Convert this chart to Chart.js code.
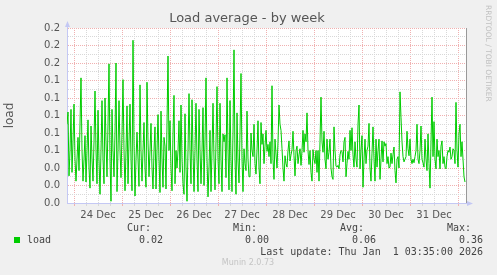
<!DOCTYPE html>
<html>
<head>
<meta charset="utf-8">
<script src="https://cdn.jsdelivr.net/npm/chart.js@4/dist/chart.umd.min.js"></script>
<style>
  html, body { margin: 0; padding: 0; background: #f0f0f0; }
  canvas { display: block; }
</style>
</head>
<body>
<canvas id="loadChart" width="497" height="275"></canvas>
<script>
// load average, one sample per 30 minutes.
// hours are counted from 24 Dec 00:00, first sample is 23 Dec 20:30
const startHour = -3.5;
const stepHours = 0.5;

// 23 Dec 20:30 - 24 Dec 24:30
const seg1 = [0.090,0.104,0.031,0.060,0.107,0.035,0.070,0.113,0.050,0.025,0.050,0.075,0.037,0.090,0.143,0.060,0.025,0.050,0.077,0.024,0.060,0.095,0.040,0.017,0.088,0.050,0.025,0.070,0.128,0.060,0.022,0.106,0.050,0.010,0.060,0.117,0.050,0.022,0.120,0.070,0.030,0.090,0.159,0.050,0.002,0.107,0.060,0.030,0.080,0.160,0.013,0.060,0.117,0.060,0.029,0.080,0.141];
// 25 Dec
const seg2 = [0.060,0.014,0.060,0.111,0.022,0.070,0.113,0.050,0.014,0.186,0.070,0.008,0.050,0.081,0.050,0.019,0.135,0.060,0.025,0.060,0.092,0.040,0.018,0.138,0.070,0.030,0.060,0.091,0.040,0.016,0.060,0.087,0.016,0.060,0.101,0.050,0.012,0.105,0.050,0.018,0.075,0.065,0.016,0.090,0.168,0.060,0.094,0.040,0.014,0.080,0.123,0.022,0.060,0.040,0.060,0.094,0.035];
// 26 Dec
const seg3 = [0.112,0.050,0.022,0.010,0.102,0.040,0.002,0.060,0.125,0.060,0.022,0.118,0.060,0.013,0.060,0.114,0.050,0.013,0.107,0.060,0.022,0.060,0.109,0.020,0.070,0.143,0.050,0.007,0.040,0.083,0.013,0.060,0.114,0.050,0.015,0.070,0.133,0.050,0.022,0.114,0.050,0.013,0.079,0.070,0.078,0.029,0.143,0.060,0.015,0.117,0.050,0.013,0.080,0.175,0.050,0.010,0.103];
// 27 Dec
const seg4 = [0.048,0.023,0.080,0.148,0.050,0.013,0.062,0.045,0.037,0.105,0.050,0.030,0.030,0.080,0.060,0.053,0.090,0.045,0.033,0.060,0.094,0.040,0.022,0.092,0.067,0.079,0.045,0.065,0.083,0.059,0.067,0.053,0.070,0.045,0.134,0.050,0.027,0.073,0.056,0.040,0.070,0.112,0.090,0.083,0.062,0.040,0.025,0.054,0.045,0.041,0.060,0.071,0.048,0.055,0.061,0.082,0.054];
// 28 - 29 Dec
const seg5 = [0.031,0.060,0.065,0.045,0.055,0.062,0.043,0.060,0.083,0.058,0.079,0.070,0.103,0.060,0.044,0.060,0.035,0.025,0.061,0.050,0.045,0.060,0.035,0.060,0.025,0.070,0.121,0.070,0.058,0.082,0.050,0.039,0.073,0.050,0.058,0.073,0.040,0.030,0.027,0.087,0.060,0.042,0.041,0.043,0.039,0.055,0.060,0.059,0.047,0.070,0.075,0.030,0.045,0.059,0.050,0.083,0.060];
// 29 - 30 Dec
const seg6 = [0.086,0.055,0.041,0.070,0.050,0.041,0.090,0.112,0.039,0.060,0.077,0.018,0.050,0.073,0.045,0.060,0.065,0.091,0.040,0.025,0.057,0.087,0.050,0.025,0.073,0.041,0.060,0.073,0.027,0.050,0.071,0.047,0.070,0.065,0.068,0.045,0.053,0.040,0.041,0.057,0.045,0.055,0.064,0.037,0.023,0.050,0.053,0.040,0.127,0.098,0.070,0.053,0.047,0.050,0.053,0.082,0.062];
// 31 Dec - 1 Jan 03:30
const seg7 = [0.054,0.073,0.050,0.045,0.050,0.046,0.053,0.060,0.090,0.050,0.045,0.060,0.088,0.050,0.046,0.041,0.073,0.050,0.037,0.079,0.045,0.017,0.070,0.121,0.053,0.093,0.050,0.039,0.073,0.053,0.060,0.039,0.065,0.071,0.045,0.053,0.041,0.039,0.053,0.060,0.058,0.064,0.050,0.053,0.062,0.060,0.045,0.115,0.060,0.041,0.079,0.090,0.053,0.070,0.050,0.030,0.024];

const loadValues = [].concat(seg1, seg2, seg3, seg4, seg5, seg6, seg7);

const dayLabels = ['24 Dec', '25 Dec', '26 Dec', '27 Dec', '28 Dec', '29 Dec', '30 Dec', '31 Dec'];
const yTickValues = [0, 0.01, 0.02, 0.03, 0.04, 0.05, 0.06, 0.07, 0.08, 0.09, 0.10,
                     0.11, 0.12, 0.13, 0.14, 0.15, 0.16, 0.17, 0.18, 0.19, 0.20];
const yTickLabels = ['0.0', '', '0.0', '', '0.0', '', '0.1', '', '0.1', '', '0.1',
                     '', '0.1', '', '0.1', '', '0.2', '', '0.2', '', '0.2'];

const statNames = ['Cur:', 'Min:', 'Avg:', 'Max:'];
const statValues = ['0.02', '0.00', '0.06', '0.36'];
const lastUpdate = 'Last update: Thu Jan  1 03:35:00 2026';

const points = loadValues.map((v, i) => ({ x: startHour + i * stepHours, y: v }));

// grid every 6 hours, red line at midnight, label at noon
const xTickHours = [];
for (let h = 0; h <= 192; h += 6) xTickHours.push(h);

const majorColor = '#f0b0b0';
const minorColor = '#d8d8d8';
const axisColor = '#c4c8f4';

const muninDecor = {
  id: 'muninDecor',
  beforeDraw(chart) {
    const { ctx, chartArea: a } = chart;
    ctx.save();
    ctx.fillStyle = '#ffffff';
    ctx.fillRect(a.left, a.top, a.right - a.left, a.bottom - a.top);
    ctx.restore();
  },
  afterDraw(chart) {
    const { ctx, chartArea: a } = chart;
    ctx.save();

    // title, centred on the whole image like munin does
    ctx.fillStyle = '#555555';
    ctx.font = '13px "DejaVu Sans"';
    ctx.textAlign = 'center';
    ctx.textBaseline = 'middle';
    ctx.fillText('Load average - by week', 247, 19);

    // right edge
    ctx.strokeStyle = '#999999';
    ctx.lineWidth = 1;
    ctx.beginPath();
    ctx.moveTo(Math.round(a.right) + 0.5, a.top);
    ctx.lineTo(Math.round(a.right) + 0.5, a.bottom);
    ctx.stroke();

    // axis arrows
    ctx.strokeStyle = axisColor;
    ctx.fillStyle = axisColor;
    const lx = Math.round(a.left) + 0.5;
    const by = Math.round(a.bottom) + 0.5;
    ctx.beginPath();
    ctx.moveTo(lx, a.top);
    ctx.lineTo(lx, a.top - 2);
    ctx.moveTo(a.right, by);
    ctx.lineTo(a.right + 2, by);
    ctx.stroke();
    ctx.beginPath();
    ctx.moveTo(lx - 2.5, a.top - 1);
    ctx.lineTo(lx + 2.5, a.top - 1);
    ctx.lineTo(lx, a.top - 7);
    ctx.closePath();
    ctx.fill();
    ctx.beginPath();
    ctx.moveTo(a.right + 1, by - 2.5);
    ctx.lineTo(a.right + 1, by + 2.5);
    ctx.lineTo(a.right + 7, by);
    ctx.closePath();
    ctx.fill();

    // rrdtool credit on the right
    ctx.fillStyle = '#c0c0c0';
    ctx.font = '7.5px "DejaVu Sans"';
    ctx.textAlign = 'left';
    ctx.textBaseline = 'middle';
    ctx.translate(487.5, 5);
    ctx.rotate(Math.PI / 2);
    ctx.fillText('RRDTOOL / TOBI OETIKER', 0, 0);
    ctx.setTransform(1, 0, 0, 1, 0, 0);

    // legend
    ctx.fillStyle = '#00cc00';
    ctx.fillRect(14, 237, 6, 6);
    ctx.fillStyle = '#444444';
    ctx.font = '10px "DejaVu Sans Mono"';
    ctx.textBaseline = 'middle';
    ctx.textAlign = 'left';
    ctx.fillText('load', 27, 240);
    ctx.textAlign = 'right';
    const colRight = [163, 269, 376, 483];
    statNames.forEach((name, i) => {
      ctx.fillText(name, colRight[i] - 12, 228);
      ctx.fillText(statValues[i], colRight[i], 240);
    });
    ctx.fillText(lastUpdate, 483, 252);

    ctx.fillStyle = '#c4c4c4';
    ctx.font = '8px "DejaVu Sans"';
    ctx.textAlign = 'center';
    ctx.fillText('Munin 2.0.73', 248, 263);
    ctx.restore();
  }
};

const ctx = document.getElementById('loadChart').getContext('2d');
const loadChart = new Chart(ctx, {
  type: 'line',
  data: {
    datasets: [{
      label: 'load',
      data: points,
      borderColor: '#00cc00',
      borderWidth: 1,
      pointRadius: 0,
      tension: 0,
      fill: false
    }]
  },
  options: {
    responsive: false,
    animation: false,
    layout: { padding: { left: 0, right: 31, top: 28, bottom: 52 } },
    plugins: {
      legend: { display: false },
      tooltip: { enabled: false },
      title: { display: false }
    },
    scales: {
      x: {
        type: 'linear',
        min: -3.5,
        max: 196,
        afterFit: s => { s.height = 20; },
        afterBuildTicks: s => { s.ticks = xTickHours.map(h => ({ value: h })); },
        grid: {
          color: c => (c.tick && c.tick.value % 24 === 0 ? majorColor : minorColor),
          tickLength: 3,
          lineWidth: 1
        },
        border: { color: axisColor, dash: [1, 1] },
        ticks: {
          autoSkip: false,
          maxRotation: 0,
          padding: 3,
          color: '#555555',
          font: { family: 'DejaVu Sans', size: 10 },
          callback: v => ((v - 12) % 24 === 0 ? dayLabels[(v - 12) / 24] : '')
        }
      },
      y: {
        min: 0,
        max: 0.2,
        afterFit: s => { s.width = 67; },
        afterBuildTicks: s => { s.ticks = yTickValues.map(v => ({ value: v })); },
        grid: {
          color: c => (c.index % 2 === 0 ? majorColor : minorColor),
          drawTicks: false,
          lineWidth: 1
        },
        border: { color: axisColor, dash: [1, 1] },
        ticks: {
          autoSkip: false,
          padding: 7,
          color: '#555555',
          font: { family: 'DejaVu Sans', size: 10 },
          callback: (v, i) => yTickLabels[i]
        },
        title: {
          display: true,
          text: 'load',
          color: '#555555',
          font: { family: 'DejaVu Sans', size: 12 },
          padding: { top: 3, bottom: 0 }
        }
      }
    }
  },
  plugins: [muninDecor]
});
</script>
</body>
</html>
